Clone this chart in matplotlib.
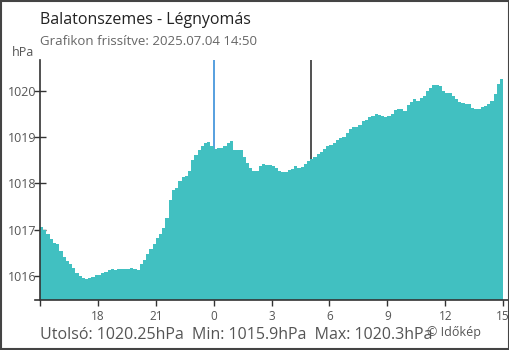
import numpy as np
import matplotlib
matplotlib.use("Agg")
import matplotlib.pyplot as plt
from matplotlib.patches import Rectangle

plt.rcParams['font.family'] = ['Open Sans', 'DejaVu Sans']

title = "Balatonszemes - Légnyomás"
subtitle = "Grafikon frissítve: 2025.07.04 14:50"
unit = "hPa"
footer = "Utolsó: 1020.25hPa  Min: 1015.9hPa  Max: 1020.3hPa"
credit = "© Időkép"

# pressure every 10 minutes from 15:00 (day before) to 14:50
pressure = [
    1017.05, 1016.99, 1016.90, 1016.80, 1016.72, 1016.70, 1016.55, 1016.42, 1016.33, 1016.26,
    1016.17, 1016.06, 1016.00, 1015.96, 1015.93, 1015.95, 1015.98, 1016.01, 1016.02, 1016.06,
    1016.08, 1016.13, 1016.15, 1016.12, 1016.15, 1016.14, 1016.16, 1016.14, 1016.17, 1016.15,
    1016.13, 1016.26, 1016.35, 1016.48, 1016.58, 1016.70, 1016.82, 1016.90, 1017.03, 1017.25,
    1017.65, 1017.85, 1017.90, 1018.05, 1018.13, 1018.17, 1018.28, 1018.50, 1018.62, 1018.72,
    1018.80, 1018.88, 1018.90, 1018.80, 1018.75, 1018.77, 1018.77, 1018.80, 1018.88, 1018.92,
    1018.72, 1018.72, 1018.72, 1018.58, 1018.45, 1018.33, 1018.27, 1018.28, 1018.38, 1018.42,
    1018.40, 1018.40, 1018.38, 1018.33, 1018.26, 1018.24, 1018.25, 1018.30, 1018.32, 1018.37,
    1018.33, 1018.36, 1018.42, 1018.48, 1018.52, 1018.57, 1018.63, 1018.68, 1018.75, 1018.80,
    1018.83, 1018.88, 1018.95, 1018.98, 1019.00, 1019.10, 1019.18, 1019.22, 1019.23, 1019.27,
    1019.35, 1019.38, 1019.43, 1019.46, 1019.50, 1019.47, 1019.46, 1019.43, 1019.45, 1019.50,
    1019.58, 1019.60, 1019.60, 1019.56, 1019.70, 1019.76, 1019.82, 1019.79, 1019.85, 1019.90,
    1020.00, 1020.06, 1020.12, 1020.13, 1020.10, 1020.00, 1019.96, 1019.95, 1019.90, 1019.83,
    1019.77, 1019.74, 1019.71, 1019.71, 1019.64, 1019.60, 1019.62, 1019.66, 1019.68, 1019.72,
    1019.78, 1019.93, 1020.15, 1020.25,
]
step_hours = 1 / 6
x_ticks = [0, 3, 6, 9, 12, 15, 18, 21, 24]          # hours after 15:00
x_labels = ["", "18", "21", "0", "3", "6", "9", "12", "15"]
y_ticks = [1016, 1017, 1018, 1019, 1020]
midnight_h = 9
sunrise_h = 14.03

W, H = 510, 350
fig = plt.figure(figsize=(W / 100, H / 100), dpi=100)
ax = fig.add_axes([35 / W, 50 / H, 475 / W, 240 / H])

ymin, ymax = 1015.48, 1020.67
px_per_h = 19.3
ax.set_xlim(-5 / px_per_h, 470 / px_per_h)
ax.set_ylim(ymin, ymax)

edges = np.arange(len(pressure) + 1) * step_hours
ax.axvline(midnight_h, color="#3a8fd9", lw=1.2, zorder=1)
ax.axvline(sunrise_h, color="#333333", lw=1.2, zorder=1)
ax.stairs(pressure, edges, baseline=ymin, fill=True, color="#41c0c1", zorder=2)

for s in ["top", "right"]:
    ax.spines[s].set_visible(False)
ax.spines["left"].set_position(("data", 0))
for s in ["left", "bottom"]:
    ax.spines[s].set_color("#333333")
    ax.spines[s].set_linewidth(1.2)

ax.set_xticks(x_ticks)
ax.set_xticklabels(x_labels)
ax.set_yticks(y_ticks)
ax.set_yticklabels([str(v) for v in y_ticks])
ax.tick_params(axis="x", direction="out", length=4.3, width=1, color="#333333",
               labelsize=8.5, labelcolor="#555555", pad=3)
ax.tick_params(axis="y", direction="inout", length=8.6, width=1, color="#333333",
               labelsize=9, labelcolor="#555555", pad=-1.5)
ax.get_xticklines()[6].set_color("#3a8fd9")

fig.text(40 / W, 1 - 24 / H, title, fontsize=11.5, color="#222222", va="baseline", ha="left")
fig.text(40 / W, 1 - 45 / H, subtitle, fontsize=9.5, color="#666666", va="baseline", ha="left")
fig.text(12 / W, 1 - 56 / H, unit, fontsize=9, color="#555555", va="baseline", ha="left")
fig.text(40 / W, 1 - 339 / H, footer, fontsize=11.5, color="#555555", va="baseline", ha="left")
fig.text(427 / W, 1 - 336 / H, credit, fontsize=9, color="#555555", va="baseline", ha="left")

fig.add_artist(Rectangle((0.5 / W, 1.0 / H), (W - 1.5) / W, (H - 1.8) / H,
                         transform=fig.transFigure, fill=False, edgecolor="#444444", lw=1.5))

fig.savefig("out.png", dpi=100)
